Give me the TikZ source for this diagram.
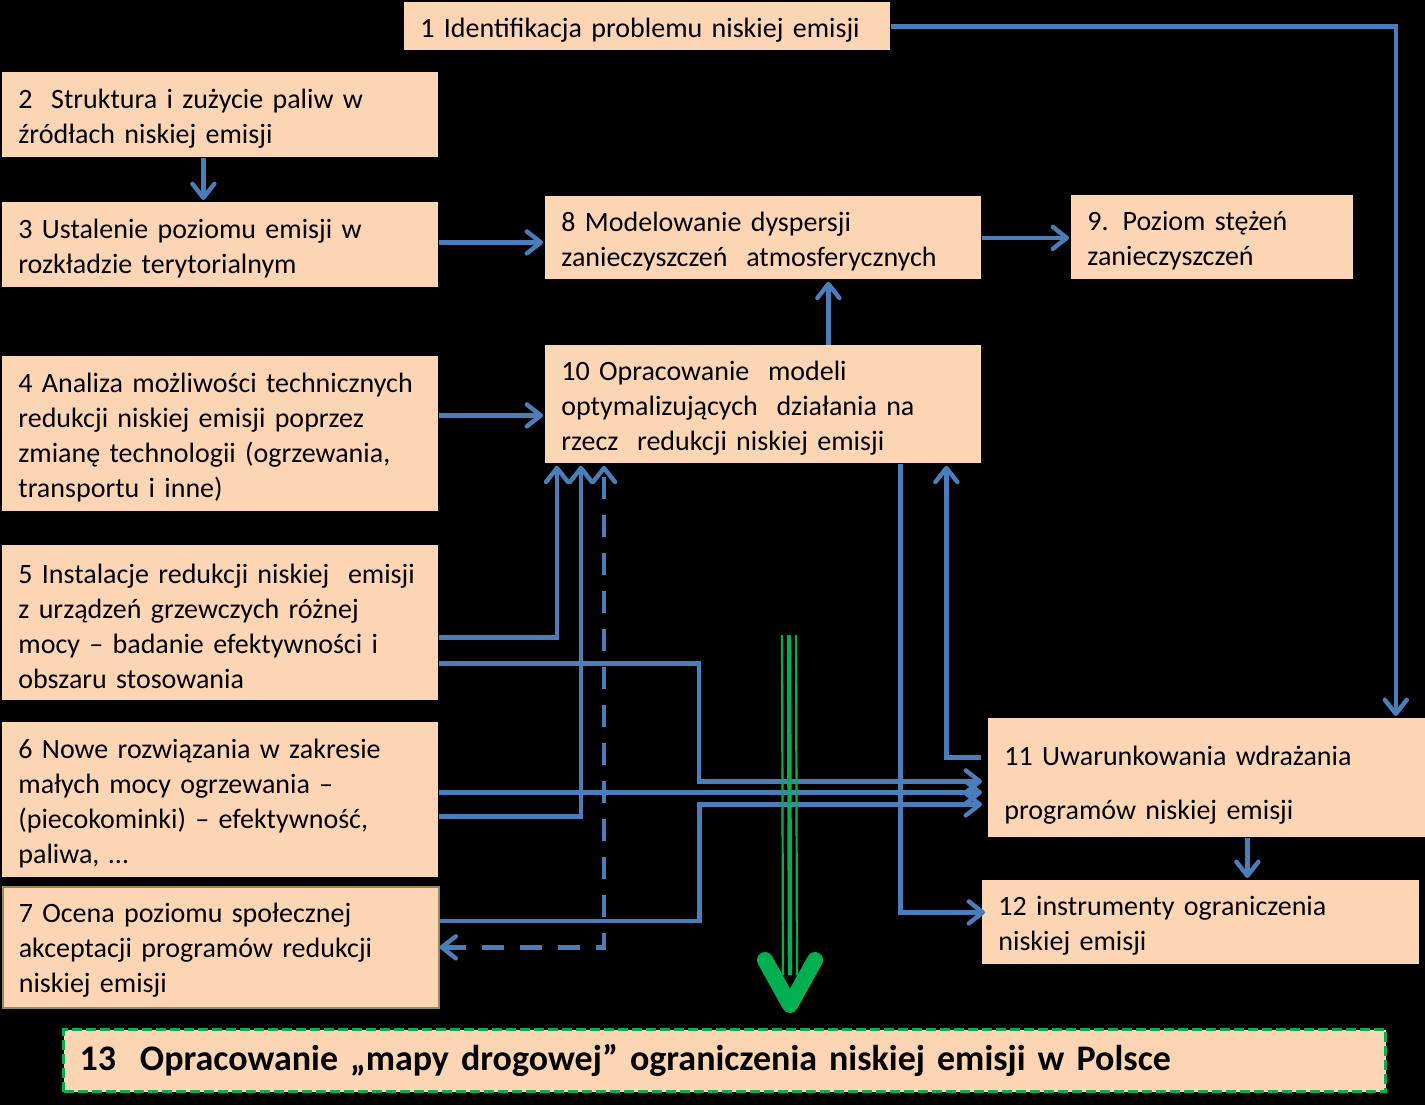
\documentclass[tikz,border=0pt]{standalone}
\usepackage{fontspec}
\setmainfont{Carlito}
\usetikzlibrary{calc,arrows.meta}
\definecolor{peach}{HTML}{FCD5B5}
\definecolor{lineblue}{HTML}{4A7EBB}
\definecolor{arrowgreen}{HTML}{00B050}
\definecolor{boxolive}{HTML}{948A54}

\begin{document}
\begin{tikzpicture}[x=0.5pt,y=-0.5pt,
  box/.style={rectangle,fill=peach,anchor=north west,inner xsep=8pt,inner ysep=0pt,
    align=left,font=\fontsize{14}{17.5}\selectfont,execute at begin node={\rule{0pt}{13pt}}},
  link/.style={draw=lineblue,line width=2.2pt,shorten >=1pt,
    -{Straight Barb[length=7pt,width=11pt,round]}},
  both/.style={link,{Straight Barb[length=7pt,width=11pt,round]}-{Straight Barb[length=7pt,width=11pt,round]},
    dash pattern=on 11pt off 8pt}]
\fill[black] (0,0) rectangle (1425,1105);
\useasboundingbox (0,0) rectangle (1425,1105);
%1
  \node[box,text width=227pt,minimum height=24pt] (1) at (404,2) {1 Identifikacja problemu niskiej emisji};
%2
  \node[box,text width=202pt,minimum height=42.5pt] (2) at (2,72) {2\ \ Struktura i zużycie paliw w\\źródłach niskiej emisji};
%3
  \node[box,text width=202pt,minimum height=42.5pt] (3) at (2,202) {3 Ustalenie poziomu emisji w\\rozkładzie terytorialnym};
%4
  \node[box,text width=202pt,minimum height=77.5pt] (4) at (2,356) {4 Analiza możliwości technicznych\\redukcji niskiej emisji poprzez\\zmianę technologii (ogrzewania,\\transportu i inne)};
%5
  \node[box,text width=202pt,minimum height=77.5pt] (5) at (2,545) {5 Instalacje redukcji niskiej\ \ emisji\\z urządzeń grzewczych różnej\\mocy -- badanie efektywności i\\obszaru stosowania};
%6
  \node[box,text width=202pt,minimum height=77.5pt] (6) at (2,722) {6 Nowe rozwiązania w zakresie\\małych mocy ogrzewania --\\(piecokominki) -- efektywność,\\paliwa, \dots};
%7
  \node[box,draw=boxolive,line width=0.8pt,text width=202pt,minimum height=60.5pt] (7) at (2,886) {7 Ocena poziomu społecznej\\akceptacji programów redukcji\\niskiej emisji};
%8
  \node[box,text width=202pt,minimum height=41.5pt] (8) at (545,196) {8 Modelowanie dyspersji\\zanieczyszczeń\ \ atmosferycznych};
%9
  \node[box,text width=125pt,minimum height=42pt] (9) at (1071,195) {9. Poziom stężeń\\zanieczyszczeń};
%10
  \node[box,text width=202pt,minimum height=59pt] (10) at (545,345) {10 Opracowanie\ \ modeli\\optymalizujących\ \ działania na\\rzecz\ \ redukcji niskiej emisji};
%11
  \node[box,text width=202.5pt,minimum height=59.5pt,execute at begin node={\rule{0pt}{17pt}}] (11) at (988,718) {11 Uwarunkowania wdrażania\\[9.5pt]programów niskiej emisji};
%12
  \node[box,text width=202.5pt,minimum height=42pt] (12) at (982,880) {12 instrumenty ograniczenia\\niskiej emisji};
%13
  \node[box,draw=arrowgreen,line width=1.5pt,dash pattern=on 5pt off 2pt,text width=645pt,minimum height=31pt,
    font=\fontsize{18}{20}\selectfont\bfseries] (13) at (62,1028) {13\ \ Opracowanie „mapy drogowej” ograniczenia niskiej emisji w Polsce};
%paths
  \draw[link] (1.east) -| ($(11.north east)+(-30,0)$);
  \draw[link] ($(2.south)+(-17,0)$) -- ($(3.north)+(-17,0)$);
  \draw[link] ($(3.east)+(0,-2.5)$) -- ($(8.west)+(0,4.5)$);
  \draw[link] (8.east) -- (8.east -| 9.west);
  \draw[link] ($(10.north)+(65,0)$) -- ($(8.south)+(65,0)$);
  \draw[link] ($(4.east)+(0,-18.5)$) -- ($(10.west)+(0,11)$);
  \draw[link] ($(5.east)+(0,14.5)$) -| ($(10.south west)+(12,0)$);
  \draw[link] ($(6.east)+(0,16.5)$) -| ($(10.south west)+(36,0)$);
  \draw[both] (7.east) -| ($(10.south west)+(59,0)$);
  \draw[link,shorten >=3pt] ($(5.east)+(0,40.5)$) -- ++(260,0) |- ($(11.west)+(0,3.5)$);
  \draw[link,shorten >=3pt] ($(6.east)+(0,-7.5)$) -- ($(11.west)+(0,14.5)$);
  \draw[link,shorten >=3pt] ($(7.east)+(0,-26.5)$) -- ++(260,0) |- ($(11.west)+(0,26.5)$);
  \draw[link,shorten >=0pt] ($(10.south)+(137,0)$) |- ($(12.west)+(3,-10)$);
  \draw[link] ($(11.west)+(-7,-20.5)$) -| ($(10.south)+(183,0)$);
  \draw[link] ($(11.south)+(40.5,0)$) -- ($(12.north)+(46.5,0)$);
%green arrow
  \coordinate (g) at (789,635);
  \coordinate (gt) at ($(13.north)+(65.5,-23)$);
  \foreach \dx/\w in {-7/1.1pt,0/2.2pt,7/1.1pt}
    \draw[arrowgreen,line width=\w] ($(g)+(\dx,0)$) -- ($(gt)+(\dx,-30)$);
  \draw[arrowgreen,line width=8pt,line cap=round,line join=round]
    ($(gt)+(-25,-45)$) -- (gt) -- ($(gt)+(25,-45)$);
\end{tikzpicture}
\end{document}
